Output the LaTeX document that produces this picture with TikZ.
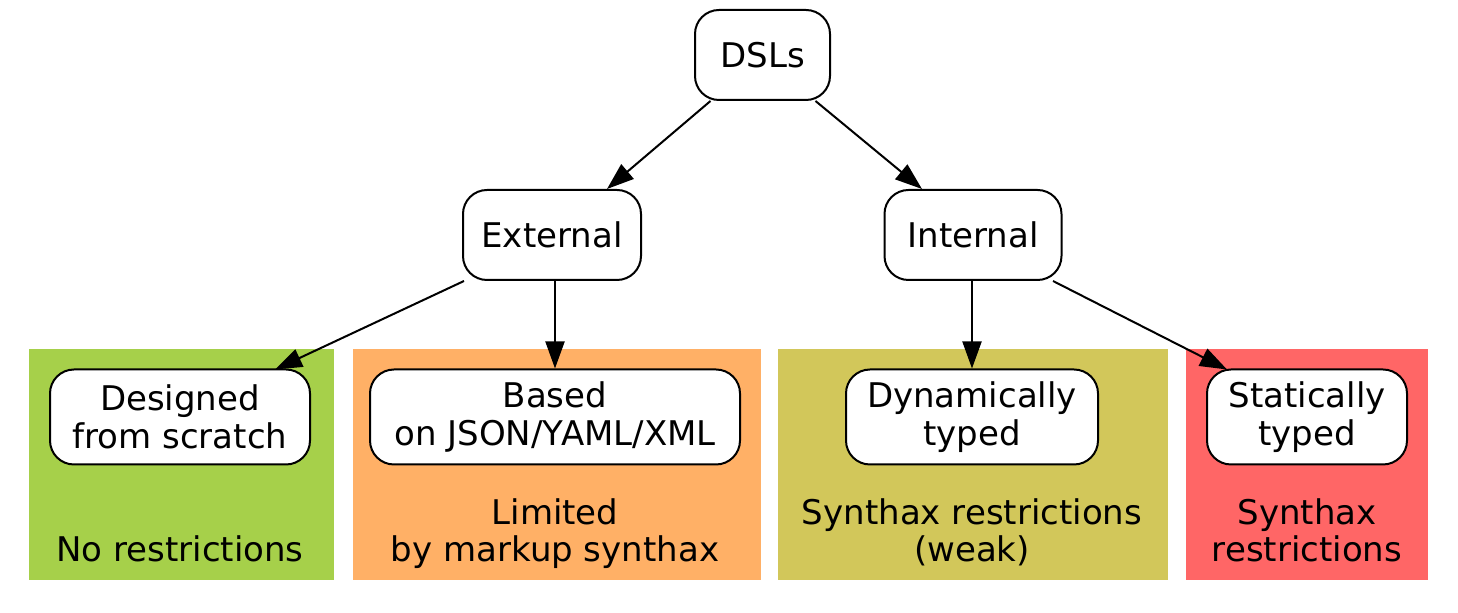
\documentclass[tikz,border=0pt]{standalone}
\usepackage{fontspec}
\setmainfont{DejaVu Sans}
\usetikzlibrary{arrows.meta,calc}
\definecolor{cgreen}{RGB}{166,208,74}
\definecolor{corange}{RGB}{255,176,102}
\definecolor{colive}{RGB}{210,199,90}
\definecolor{cred}{RGB}{255,102,102}
\begin{document}
\begin{tikzpicture}[x=0.5pt,y=-0.5pt,
  box/.style={draw,line width=1pt,rounded corners=12pt,fill=white,align=center,inner sep=0pt,font=\fontsize{17}{18.9}\selectfont},
  clus/.style={inner sep=0pt,outer sep=0pt,anchor=north west,minimum height=115.5pt},
  lbl/.style={align=center,anchor=base,inner sep=0pt,font=\fontsize{17}{18.9}\selectfont},
  edge/.style={line width=1pt,-{Triangle[length=13.5pt,width=9.5pt]}}]
\useasboundingbox (0,0) rectangle (1458,613);
% clusters
\node[clus,fill=cgreen,minimum width=152.5pt] (cg) at (29,349) {};
\node[clus,fill=corange,minimum width=204pt] (co) at (353,349) {};
\node[clus,fill=colive,minimum width=195pt] (cy) at (778,349) {};
\node[clus,fill=cred,minimum width=121pt] (cr) at (1186,349) {};
% cluster labels
\node[lbl] (lg) at (180,562) {No restrictions};
\node[lbl] (lo) at (555,562) {Limited\\by markup synthax};
\node[lbl] (ly) at (972,562) {Synthax restrictions\\(weak)};
\node[lbl] (lr) at (1307,562) {Synthax\\restrictions};
% nodes
\node[box,minimum width=67.5pt,minimum height=45pt] (dsl) at (762.5,55) {DSLs};
\node[box,minimum width=89pt,minimum height=45pt] (ext) at (552,235) {External};
\node[box,minimum width=88.5pt,minimum height=45pt] (int) at (973,235) {Internal};
\node[box,minimum width=130pt,minimum height=47.5pt] (des) at (180,417) {Designed\\from scratch};
\node[box,minimum width=185pt,minimum height=47.5pt] (bas) at (555,417) {Based\\on JSON/YAML/XML};
\node[box,minimum width=126pt,minimum height=47.5pt] (dyn) at (972,417) {Dynamically\\typed};
\node[box,minimum width=100pt,minimum height=47.5pt] (sta) at (1307,417) {Statically\\typed};
% edges
\draw[edge] ($(dsl.south)+(-52,0)$) -- ($(ext.north)+(55,0)$);
\draw[edge] ($(dsl.south)+(53,0)$) -- ($(int.north)+(-51,0)$);
\draw[edge] ($(ext.south)+(-88,0)$) -- ($(des.north)+(95,1)$);
\draw[edge] (ext.south -| bas.north) -- (bas.north);
\draw[edge] (int.south -| dyn.north) -- (dyn.north);
\draw[edge] ($(int.south)+(80,0)$) -- ($(sta.north)+(-80,1)$);
\end{tikzpicture}
\end{document}
